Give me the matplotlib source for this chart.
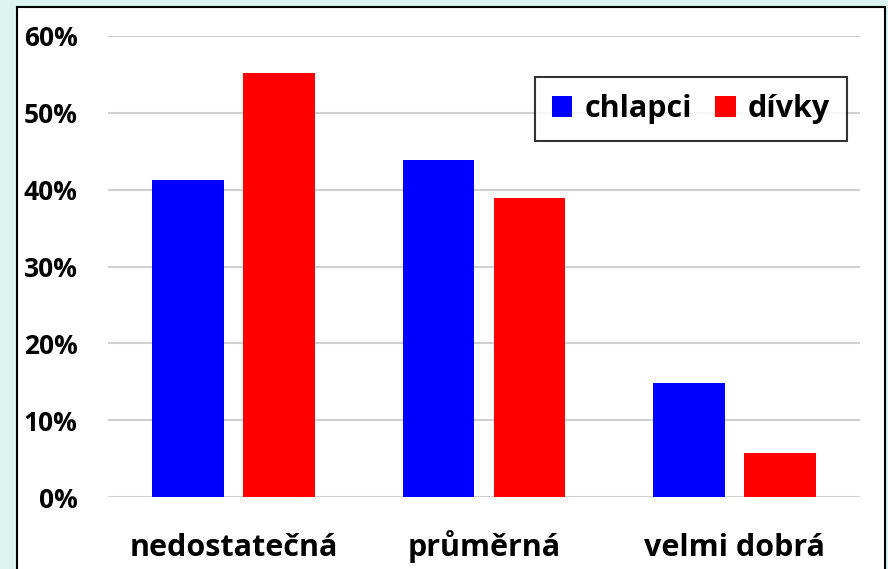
import numpy as np
import matplotlib.pyplot as plt
from matplotlib.patches import Rectangle
from matplotlib.ticker import PercentFormatter

plt.rcParams['font.family'] = ['Open Sans', 'DejaVu Sans']
plt.rcParams['font.weight'] = 'bold'

categories = ["nedostatečná", "průměrná", "velmi dobrá"]
chlapci = [41.3, 43.8, 14.8]
divky = [55.2, 38.9, 5.7]
series_names = ["chlapci", "dívky"]

W, H = 888, 569
fig = plt.figure(figsize=(W / 100, H / 100), dpi=100)
fig.patch.set_facecolor("#dcf4f0")
fig.patches.append(Rectangle((17 / W, -0.02), (885 - 17) / W, 1 - 7 / H + 0.02,
                             transform=fig.transFigure, facecolor="white",
                             edgecolor="black", linewidth=1.5, zorder=-5))

ax = fig.add_axes([108 / W, 1 - 497 / H, (860 - 108) / W, (497 - 36) / H])
ax.set_facecolor("none")
x = np.arange(len(categories))
bw = 0.287
gap = 0.076
ax.bar(x - (bw + gap) / 2, chlapci, bw, color="#0000ff", label=series_names[0], zorder=3)
ax.bar(x + (bw + gap) / 2, divky, bw, color="#ff0000", label=series_names[1], zorder=3)

ax.set_xlim(-0.5, 2.5)
ax.set_ylim(0, 60)
ax.set_yticks(np.arange(0, 61, 10))
ax.yaxis.set_major_formatter(PercentFormatter(decimals=0))
ax.grid(axis="y", color="#d0d0d0", linewidth=1.5, zorder=0)
for s in ax.spines.values():
    s.set_visible(False)
ax.tick_params(axis="both", length=0)
ax.tick_params(axis="y", labelsize=19, pad=22)
ax.tick_params(axis="x", labelsize=22, pad=42.5)
ax.set_xticks(x)
ax.set_xticklabels(categories, va="baseline")

leg = ax.legend(loc="upper right", bbox_to_anchor=((847 - 108) / (860 - 108), 1 - (77 - 36) / (497 - 36)),
                ncol=2, fontsize=22, frameon=True, fancybox=False,
                handlelength=0.68, handleheight=0.68, handletextpad=0.4,
                columnspacing=0.75, borderpad=0.55, borderaxespad=0)
leg.get_frame().set_edgecolor("black")
leg.get_frame().set_linewidth(1.5)

fig.savefig("out.png", dpi=100, facecolor=fig.get_facecolor())
